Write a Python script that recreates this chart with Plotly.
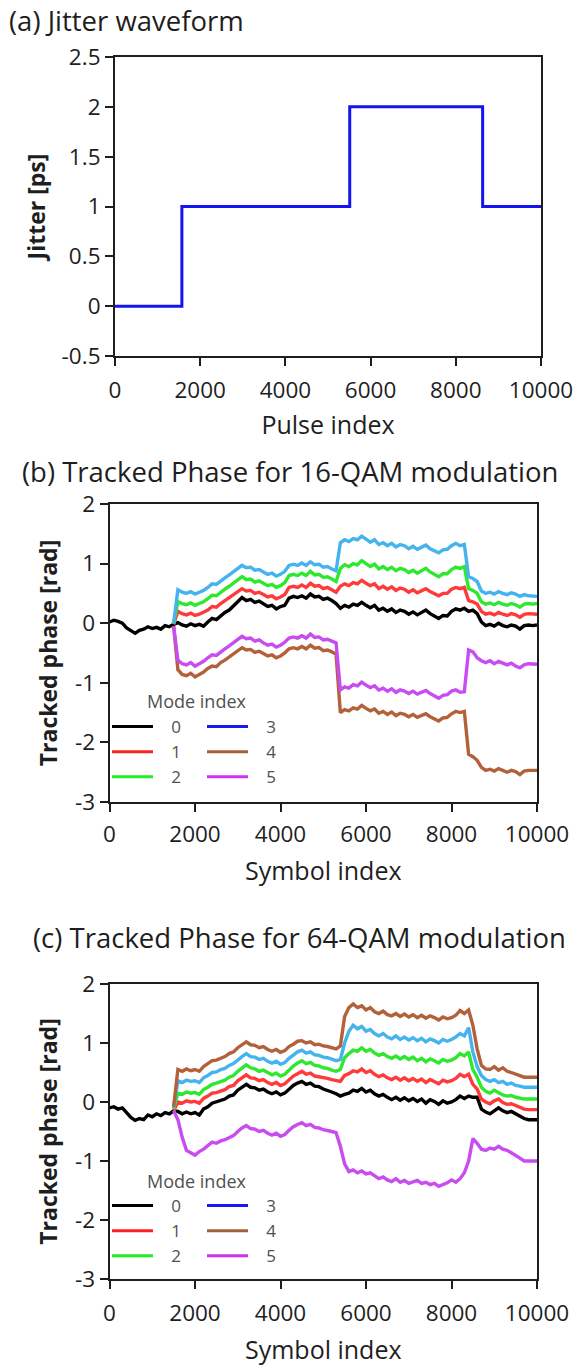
import plotly.graph_objects as go

W, H = 574, 1367

# ---------------- data ----------------
pulse_steps_x = [0, 1570, 5510, 8630, 10000]
jitter_ps = [0, 1, 2, 1, 1]

symbol_x = list(range(0, 10001, 100))

mode_names = ["0", "1", "2", "3", "4", "5"]

qam16_mode0 = [0.02, 0.05, 0.03, 0.0, -0.08, -0.13, -0.17, -0.12, -0.1, -0.06,
               -0.09, -0.07, -0.1, -0.04, -0.06, -0.02, 0.01, -0.03, -0.05, -0.01,
               -0.04, -0.02, -0.05, 0.02, 0.08, 0.06, 0.12, 0.18, 0.22, 0.3,
               0.36, 0.43, 0.38, 0.4, 0.35, 0.37, 0.33, 0.28, 0.3, 0.24,
               0.28, 0.3, 0.42, 0.45, 0.43, 0.46, 0.42, 0.49, 0.44, 0.45,
               0.4, 0.42, 0.38, 0.33, 0.25, 0.3, 0.27, 0.32, 0.3, 0.35,
               0.3, 0.26, 0.3, 0.22, 0.25, 0.2, 0.24, 0.18, 0.22, 0.2,
               0.15, 0.19, 0.14, 0.18, 0.22, 0.16, 0.12, 0.08, 0.13, 0.12,
               0.2, 0.24, 0.22, 0.25, 0.2, 0.22, 0.16, 0.02, -0.04, -0.02,
               -0.05, 0.0, -0.04, -0.06, -0.03, -0.05, -0.1, -0.04, -0.03, -0.04,
               -0.03]
qam16_mode1 = [-0.02, 0.2, 0.16, 0.14, 0.17,
               0.13, 0.15, 0.18, 0.22, 0.28, 0.27, 0.33, 0.38, 0.42, 0.47,
               0.52, 0.58, 0.54, 0.55, 0.5, 0.52, 0.48, 0.44, 0.46, 0.41,
               0.44, 0.48, 0.6, 0.62, 0.6, 0.64, 0.6, 0.67, 0.62, 0.63,
               0.58, 0.6, 0.56, 0.52, 0.62, 0.66, 0.63, 0.68, 0.66, 0.72,
               0.67, 0.63, 0.66, 0.58, 0.62, 0.57, 0.61, 0.55, 0.59, 0.57,
               0.52, 0.56, 0.51, 0.55, 0.58, 0.53, 0.49, 0.46, 0.5, 0.5,
               0.57, 0.6, 0.58, 0.6, 0.38, 0.36, 0.32, 0.2, 0.15, 0.17,
               0.14, 0.18, 0.15, 0.13, 0.16, 0.14, 0.1, 0.15, 0.16, 0.15,
               0.15]
qam16_mode2 = [-0.01, 0.36, 0.33, 0.31, 0.34,
               0.3, 0.33, 0.36, 0.41, 0.47, 0.46, 0.52, 0.57, 0.62, 0.67,
               0.72, 0.78, 0.73, 0.74, 0.69, 0.71, 0.67, 0.63, 0.65, 0.6,
               0.63, 0.68, 0.8, 0.82, 0.8, 0.84, 0.8, 0.87, 0.81, 0.82,
               0.77, 0.78, 0.74, 0.7, 0.92, 0.98, 0.95, 1.0, 0.98, 1.05,
               1.0, 0.95, 0.99, 0.91, 0.95, 0.9, 0.94, 0.88, 0.92, 0.9,
               0.85, 0.89, 0.84, 0.88, 0.92, 0.86, 0.82, 0.78, 0.83, 0.83,
               0.9, 0.94, 0.92, 0.95, 0.58, 0.55, 0.5, 0.36, 0.32, 0.34,
               0.31, 0.35, 0.32, 0.3, 0.33, 0.31, 0.27, 0.32, 0.33, 0.32,
               0.33]
qam16_mode3 = [0.0, 0.56, 0.52, 0.5, 0.53,
               0.49, 0.52, 0.55, 0.6, 0.66, 0.65, 0.71, 0.76, 0.81, 0.86,
               0.91, 0.97, 0.93, 0.94, 0.89, 0.9, 0.86, 0.82, 0.84, 0.79,
               0.82, 0.87, 0.97, 0.99, 0.97, 1.01, 0.97, 1.03, 0.98, 0.99,
               0.94, 0.95, 0.91, 0.88, 1.35, 1.4, 1.37, 1.42, 1.4, 1.46,
               1.41, 1.36, 1.4, 1.32, 1.35, 1.3, 1.34, 1.28, 1.32, 1.3,
               1.25, 1.29, 1.24, 1.28, 1.31, 1.25, 1.21, 1.18, 1.23, 1.24,
               1.3, 1.34, 1.3, 1.32, 0.78, 0.75, 0.7, 0.54, 0.5, 0.52,
               0.49, 0.53, 0.5, 0.48, 0.51, 0.49, 0.45, 0.48, 0.46, 0.45,
               0.45]
qam16_mode4 = [-0.05, -0.78, -0.86, -0.88, -0.84,
               -0.9, -0.86, -0.82, -0.76, -0.72, -0.73, -0.66, -0.62, -0.57, -0.52,
               -0.47, -0.41, -0.45, -0.44, -0.49, -0.47, -0.51, -0.55, -0.53, -0.58,
               -0.55, -0.5, -0.43, -0.41, -0.43, -0.39, -0.43, -0.37, -0.42, -0.41,
               -0.46, -0.45, -0.48, -0.52, -1.5, -1.45, -1.47, -1.42, -1.44, -1.38,
               -1.43, -1.47, -1.44, -1.51, -1.48, -1.53, -1.49, -1.55, -1.51, -1.53,
               -1.57, -1.53, -1.58, -1.55, -1.52, -1.57, -1.61, -1.64, -1.59, -1.58,
               -1.52, -1.48, -1.5, -1.48, -2.2, -2.24, -2.3, -2.42, -2.47, -2.45,
               -2.48, -2.44, -2.47, -2.5, -2.47, -2.49, -2.54, -2.48, -2.47, -2.47,
               -2.47]
qam16_mode5 = [-0.05, -0.62, -0.68, -0.7, -0.66,
               -0.72, -0.68, -0.64, -0.58, -0.53, -0.54, -0.48, -0.43, -0.38, -0.33,
               -0.28, -0.22, -0.26, -0.25, -0.3, -0.28, -0.33, -0.37, -0.35, -0.4,
               -0.37, -0.32, -0.25, -0.23, -0.25, -0.21, -0.25, -0.18, -0.24, -0.23,
               -0.28, -0.27, -0.3, -0.33, -1.12, -1.07, -1.09, -1.03, -1.05, -0.99,
               -1.04, -1.08, -1.05, -1.12, -1.09, -1.14, -1.1, -1.16, -1.12, -1.14,
               -1.18, -1.14, -1.19, -1.16, -1.13, -1.18, -1.22, -1.26, -1.21, -1.2,
               -1.14, -1.12, -1.16, -1.15, -0.45, -0.48, -0.58, -0.63, -0.66, -0.63,
               -0.68, -0.64, -0.67, -0.7, -0.67, -0.72, -0.75, -0.7, -0.68, -0.69,
               -0.69]

qam64_mode0 = [-0.1, -0.08, -0.12, -0.1, -0.18, -0.26, -0.31, -0.28, -0.3, -0.22,
               -0.25, -0.2, -0.23, -0.18, -0.2, -0.15, -0.16, -0.2, -0.17, -0.2,
               -0.18, -0.22, -0.12, -0.08, -0.02, 0.0, 0.03, 0.05, 0.1, 0.12,
               0.2, 0.25, 0.3, 0.25, 0.24, 0.2, 0.22, 0.17, 0.14, 0.17,
               0.12, 0.15, 0.22, 0.28, 0.32, 0.35, 0.3, 0.32, 0.27, 0.26,
               0.22, 0.2, 0.17, 0.14, 0.1, 0.13, 0.15, 0.2, 0.18, 0.23,
               0.17, 0.2, 0.14, 0.1, 0.13, 0.08, 0.04, 0.08, 0.03, 0.07,
               0.02, 0.06, 0.01, 0.05, -0.02, 0.04, 0.01, -0.04, 0.02, -0.02,
               0.0, 0.04, 0.1, 0.06, 0.1, 0.08, 0.08, -0.12, -0.17, -0.2,
               -0.15, -0.1, -0.15, -0.18, -0.16, -0.2, -0.24, -0.28, -0.3, -0.3,
               -0.3]
qam64_mode1 = [-0.15, 0.0, -0.02, 0.02, 0.0,
               0.01, -0.02, 0.06, 0.1, 0.15, 0.16, 0.19, 0.21, 0.26, 0.28,
               0.36, 0.41, 0.46, 0.41, 0.4, 0.36, 0.38, 0.33, 0.3, 0.33,
               0.28, 0.31, 0.38, 0.44, 0.48, 0.52, 0.47, 0.49, 0.44, 0.43,
               0.41, 0.4, 0.38, 0.36, 0.35, 0.45, 0.48, 0.53, 0.51, 0.56,
               0.5, 0.53, 0.47, 0.43, 0.46, 0.41, 0.38, 0.42, 0.37, 0.41,
               0.36, 0.4, 0.35, 0.39, 0.33, 0.38, 0.35, 0.31, 0.37, 0.34,
               0.36, 0.4, 0.47, 0.43, 0.47, 0.3, 0.22, 0.05, 0.0, -0.03,
               0.02, 0.05, -0.01, -0.04, -0.03, -0.06, -0.08, -0.12, -0.13, -0.13,
               -0.13]
qam64_mode2 = [-0.12, 0.15, 0.13, 0.17, 0.15,
               0.16, 0.13, 0.21, 0.25, 0.3, 0.32, 0.35, 0.37, 0.42, 0.45,
               0.52, 0.57, 0.63, 0.58, 0.56, 0.52, 0.54, 0.5, 0.46, 0.49,
               0.44, 0.47, 0.55, 0.61, 0.66, 0.7, 0.65, 0.67, 0.62, 0.61,
               0.58, 0.57, 0.54, 0.52, 0.55, 0.75, 0.82, 0.88, 0.86, 0.92,
               0.86, 0.89, 0.83, 0.79, 0.82, 0.77, 0.74, 0.78, 0.73, 0.77,
               0.72, 0.76, 0.7, 0.74, 0.68, 0.73, 0.7, 0.66, 0.72, 0.69,
               0.71, 0.75, 0.82, 0.78, 0.85, 0.55, 0.42, 0.25, 0.18, 0.15,
               0.2, 0.16, 0.12, 0.1, 0.11, 0.08, 0.06, 0.05, 0.05, 0.05,
               0.05]
qam64_mode3 = [-0.1, 0.36, 0.33, 0.37, 0.35,
               0.36, 0.33, 0.41, 0.45, 0.5, 0.51, 0.55, 0.57, 0.62, 0.65,
               0.72, 0.77, 0.82, 0.77, 0.76, 0.72, 0.74, 0.69, 0.66, 0.69,
               0.64, 0.67, 0.74, 0.8, 0.85, 0.88, 0.83, 0.85, 0.8, 0.79,
               0.76, 0.75, 0.72, 0.7, 0.72, 1.0, 1.2, 1.3, 1.24, 1.28,
               1.2, 1.23, 1.16, 1.12, 1.16, 1.1, 1.07, 1.12, 1.06, 1.1,
               1.05, 1.09, 1.04, 1.08, 1.02, 1.07, 1.04, 1.0, 1.06, 1.03,
               1.06, 1.1, 1.16, 1.12, 1.26, 0.85, 0.6, 0.45, 0.38, 0.35,
               0.38, 0.33, 0.35, 0.3, 0.32, 0.28, 0.27, 0.25, 0.25, 0.25,
               0.25]
qam64_mode4 = [-0.08, 0.55, 0.52, 0.56, 0.53,
               0.55, 0.52, 0.6, 0.65, 0.7, 0.71, 0.74, 0.77, 0.82, 0.85,
               0.92, 0.97, 1.02, 0.97, 0.96, 0.92, 0.94, 0.89, 0.86, 0.89,
               0.84, 0.87, 0.94, 0.98, 1.03, 1.04, 1.0, 1.02, 0.97, 0.98,
               0.95, 0.94, 0.92, 0.9, 0.95, 1.45, 1.6, 1.66, 1.6, 1.63,
               1.56, 1.6, 1.53, 1.5, 1.54, 1.48, 1.46, 1.5, 1.45, 1.49,
               1.44, 1.48, 1.43, 1.47, 1.42, 1.46, 1.43, 1.39, 1.44, 1.41,
               1.43, 1.47, 1.55, 1.5, 1.56, 1.3, 0.9, 0.62, 0.56, 0.55,
               0.6, 0.54, 0.58, 0.52, 0.5, 0.47, 0.45, 0.42, 0.42, 0.42,
               0.42]
qam64_mode5 = [-0.15, -0.3, -0.6, -0.82, -0.86,
               -0.9, -0.84, -0.8, -0.74, -0.68, -0.7, -0.66, -0.64, -0.6, -0.57,
               -0.5, -0.44, -0.4, -0.45, -0.46, -0.5, -0.48, -0.53, -0.56, -0.53,
               -0.58, -0.55, -0.48, -0.42, -0.38, -0.35, -0.4, -0.38, -0.43, -0.44,
               -0.47, -0.48, -0.5, -0.52, -0.75, -1.05, -1.18, -1.15, -1.2, -1.17,
               -1.22, -1.2, -1.25, -1.3, -1.27, -1.32, -1.35, -1.3, -1.36, -1.33,
               -1.38, -1.35, -1.33, -1.38, -1.36, -1.4, -1.38, -1.43, -1.4, -1.37,
               -1.32, -1.36, -1.3, -1.2, -1.0, -0.62, -0.7, -0.8, -0.82, -0.78,
               -0.8, -0.75, -0.8, -0.82, -0.86, -0.9, -0.95, -1.0, -1.0, -1.0,
               -1.0]

qam16 = [qam16_mode0, qam16_mode1, qam16_mode2, qam16_mode3, qam16_mode4, qam16_mode5]
qam64 = [qam64_mode0, qam64_mode1, qam64_mode2, qam64_mode3, qam64_mode4, qam64_mode5]

x_ticks = [0, 2000, 4000, 6000, 8000, 10000]
x_ticktext = ["0", "2000", "4000", "6000", "8000", "10000"]
ya_ticks = [-0.5, 0, 0.5, 1, 1.5, 2, 2.5]
ya_ticktext = ["-0.5", "0", "0.5", "1", "1.5", "2", "2.5"]
yb_ticks = [-3, -2, -1, 0, 1, 2]
yb_ticktext = ["-3", "-2", "-1", "0", "1", "2"]

# ---------------- style ----------------
FONT = "Open Sans"
TXT = "#1e1e1e"
line_colors = ["#000000", "#ff3a3a", "#2ee82e", "#45b4ee", "#b2613a", "#c94cf0"]
legend_colors = ["#000000", "#ff2020", "#22ee22", "#1a1aee", "#a8603a", "#cc33ee"]

fig = go.Figure()

fig.add_trace(go.Scatter(x=pulse_steps_x, y=jitter_ps, mode="lines", line_shape="hv",
                         line=dict(color="#1414ee", width=3), showlegend=False,
                         xaxis="x", yaxis="y"))

for panel, (series, xa, ya) in enumerate([(qam16, "x2", "y2"), (qam64, "x3", "y3")]):
    for m, vals in enumerate(series):
        xs = symbol_x[len(symbol_x) - len(vals):]
        fig.add_trace(go.Scatter(x=xs, y=vals, mode="lines",
                                 line=dict(color=line_colors[m], width=3.4),
                                 showlegend=False, xaxis=xa, yaxis=ya))
    # legend entries (two columns per panel)
    for m in range(6):
        idx = panel * 2 + (1 if m < 3 else 2)
        lg = "legend" if idx == 1 else "legend%d" % idx
        fig.add_trace(go.Scatter(x=[None], y=[None], mode="lines",
                                 name="\u00a0" * 3 + mode_names[m],
                                 line=dict(color=legend_colors[m], width=3),
                                 legend=lg, xaxis=xa, yaxis=ya))

def px_x(p):
    return p / W

def px_y(p):
    return 1 - p / H

axis_common = dict(showline=True, mirror=True, linecolor="#1e1e1e", linewidth=2,
                   ticks="outside", ticklen=8, tickwidth=2, tickcolor="#1e1e1e",
                   showgrid=False, zeroline=False, automargin=False,
                   tickfont=dict(family=FONT, size=22.5, color=TXT))

xtitle_font = dict(family=FONT, size=25, color=TXT)
ytitle_font = dict(family=FONT, size=23, color=TXT, weight="bold")

layout = dict(
    width=W, height=H, margin=dict(l=0, r=0, t=0, b=0, autoexpand=False),
    paper_bgcolor="white", plot_bgcolor="white",
    font=dict(family=FONT, color=TXT),
    xaxis=dict(axis_common, domain=[px_x(115), px_x(541)], range=[0, 10000], anchor="y",
               tickvals=x_ticks, ticktext=x_ticktext, ticklabelstandoff=5,
               title=dict(text="Pulse index", font=xtitle_font, standoff=12)),
    yaxis=dict(axis_common, domain=[px_y(356), px_y(57)], range=[-0.5, 2.5], anchor="x",
               tickvals=ya_ticks, ticktext=ya_ticktext,
               title=dict(text="Jitter [ps]", font=ytitle_font, standoff=10)),
    xaxis2=dict(axis_common, domain=[px_x(109.5), px_x(537)], range=[0, 10000], anchor="y2",
                tickvals=x_ticks, ticktext=x_ticktext, ticklabelstandoff=3,
                title=dict(text="Symbol index", font=xtitle_font, standoff=14)),
    yaxis2=dict(axis_common, domain=[px_y(802), px_y(504)], range=[-3, 2], anchor="x2",
                tickvals=yb_ticks, ticktext=yb_ticktext,
                title=dict(text="Tracked phase [rad]", font=ytitle_font, standoff=11)),
    xaxis3=dict(axis_common, domain=[px_x(109.5), px_x(537)], range=[0, 10000], anchor="y3",
                tickvals=x_ticks, ticktext=x_ticktext, ticklabelstandoff=5,
                title=dict(text="Symbol index", font=xtitle_font, standoff=14)),
    yaxis3=dict(axis_common, domain=[px_y(1279), px_y(984)], range=[-3, 2], anchor="x3",
                tickvals=yb_ticks, ticktext=yb_ticktext,
                title=dict(text="Tracked phase [rad]", font=ytitle_font, standoff=11)),
)

leg_common = dict(orientation="v", xanchor="left", yanchor="top", bgcolor="rgba(0,0,0,0)",
                  borderwidth=0, font=dict(family=FONT, size=17, color="#505050"),
                  itemwidth=41, tracegroupgap=0)
layout["legend"] = dict(leg_common, x=px_x(107), y=px_y(709))
layout["legend2"] = dict(leg_common, x=px_x(202), y=px_y(709))
layout["legend3"] = dict(leg_common, x=px_x(107), y=px_y(1188))
layout["legend4"] = dict(leg_common, x=px_x(202), y=px_y(1188))

title_font = dict(family=FONT, size=27.5, color=TXT)
annotations = [
    dict(text="(a) Jitter waveform", x=px_x(7), y=px_y(20)),
    dict(text="(b) Tracked Phase for 16-QAM modulation", x=px_x(20), y=px_y(471)),
    dict(text="(c) Tracked Phase for 64-QAM modulation", x=px_x(31), y=px_y(938)),
]
for a in annotations:
    a.update(xref="paper", yref="paper", xanchor="left", yanchor="middle",
             showarrow=False, font=title_font)
legend_title_font = dict(family=FONT, size=18, color="#505050")
for yy in (701, 1181):
    annotations.append(dict(text="Mode index", x=px_x(197), y=px_y(yy), xref="paper",
                            yref="paper", xanchor="center", yanchor="middle",
                            showarrow=False, font=legend_title_font))
layout["annotations"] = annotations

fig.update_layout(**layout)
fig.write_html(
    "out.html",
    config={"displayModeBar": False},
    post_script="document.body.style.margin='0';"
                "document.documentElement.style.overflow='hidden';",
)
